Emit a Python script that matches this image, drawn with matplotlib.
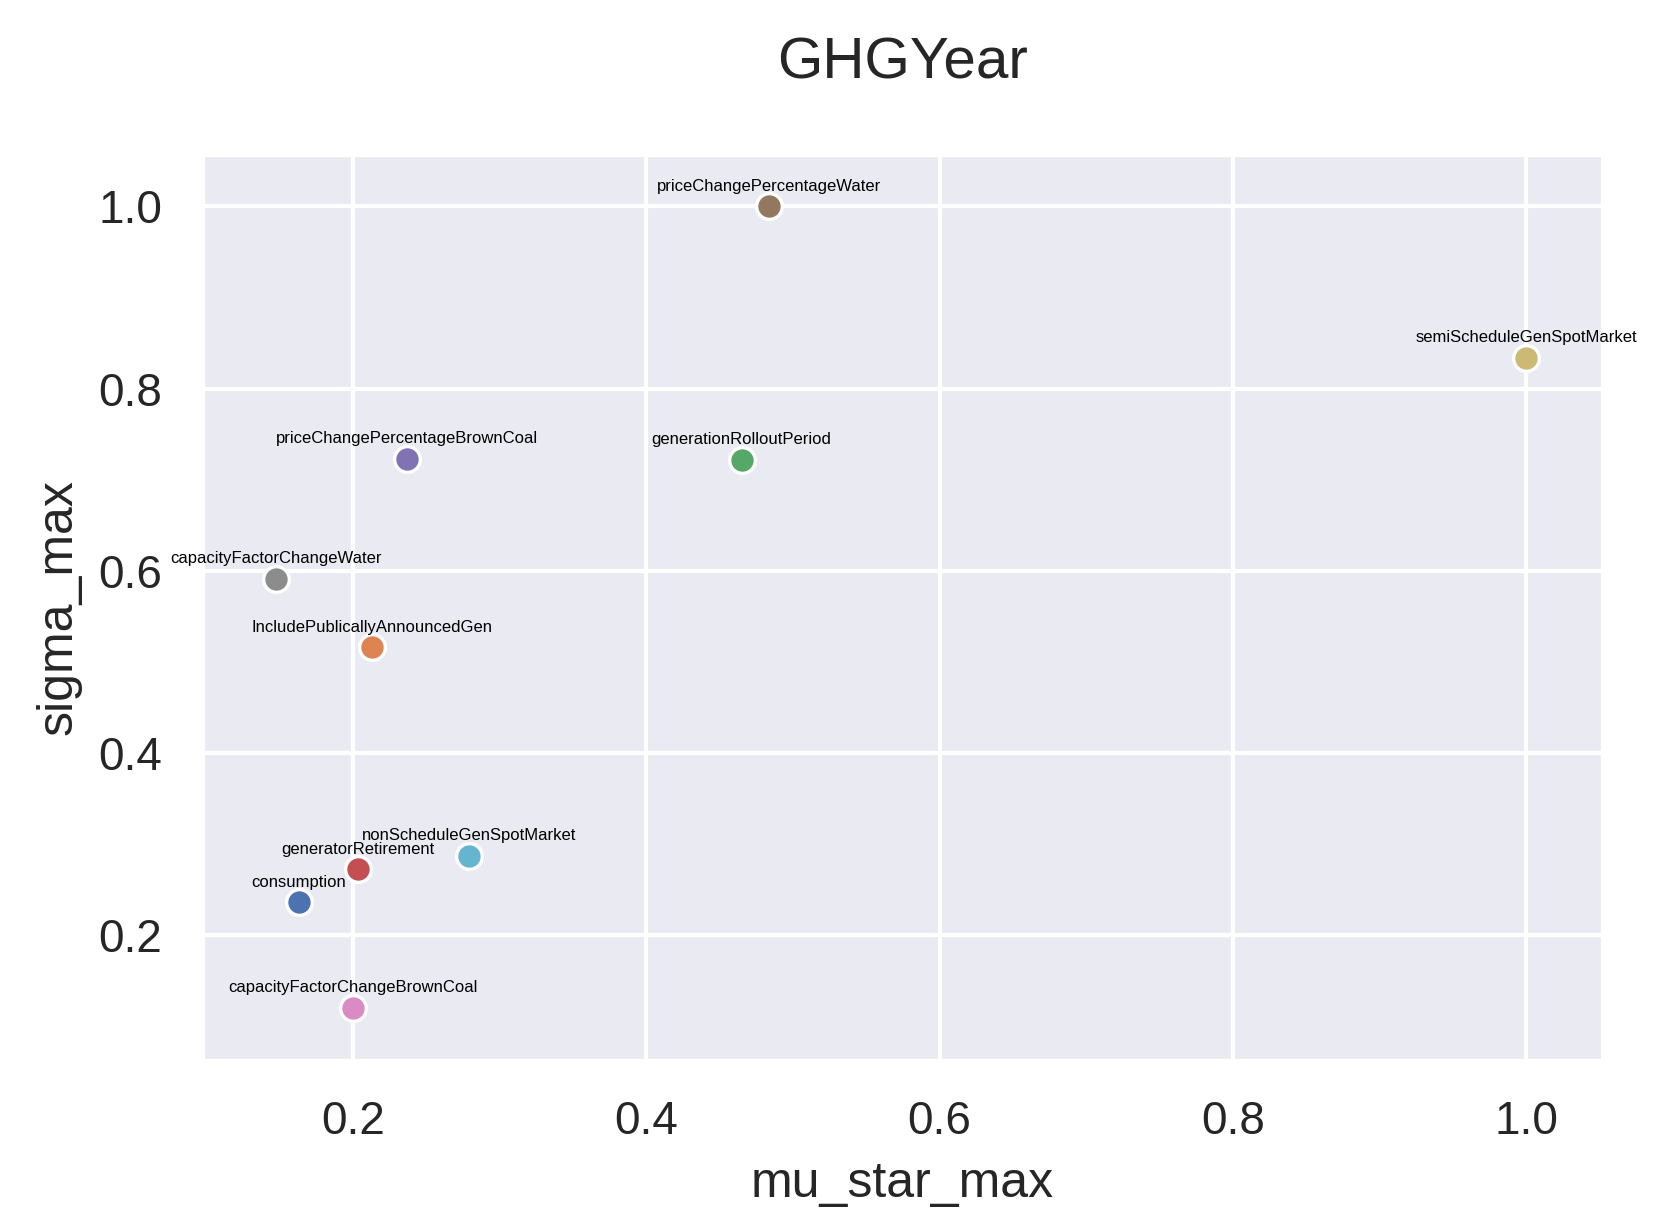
import matplotlib
matplotlib.use("Agg")
import matplotlib.pyplot as plt
import seaborn as sns

names = ["consumption", "IncludePublicallyAnnouncedGen", "generationRolloutPeriod",
         "generatorRetirement", "priceChangePercentageBrownCoal", "priceChangePercentageWater",
         "capacityFactorChangeBrownCoal", "capacityFactorChangeWater",
         "semiScheduleGenSpotMarket", "nonScheduleGenSpotMarket"]
mu_star_max = [0.163, 0.213, 0.465, 0.2036, 0.237, 0.4836, 0.2, 0.1478, 1.0, 0.279]
sigma_max = [0.236, 0.516, 0.722, 0.272, 0.723, 1.0, 0.120, 0.591, 0.834, 0.287]

sns.set_theme(style="darkgrid")
plt.rcParams['font.family'] = ['Arial', 'Liberation Sans', 'DejaVu Sans']
colors = sns.color_palette("deep", 10)

fig = plt.figure(figsize=(1654/300, 1229/300), dpi=300)
ax = fig.add_axes([0.122, 0.137, 0.847, 0.738])
for i, n in enumerate(names):
    ax.scatter(mu_star_max[i], sigma_max[i], color=colors[i], s=38, edgecolor='white', linewidth=0.8, zorder=3)
    ax.annotate(n, (mu_star_max[i], sigma_max[i]), xytext=(0, 3), textcoords='offset points',
                ha='center', va='bottom', fontsize=4, color='black')
ax.set_xlim(0.097, 1.052)
ax.set_ylim(0.062, 1.058)
ax.set_xticks([0.2, 0.4, 0.6, 0.8, 1.0])
ax.set_yticks([0.2, 0.4, 0.6, 0.8, 1.0])
ax.tick_params(labelsize=11)
ax.set_xlabel("mu_star_max", fontsize=12)
ax.set_ylabel("sigma_max", fontsize=12)
ax.set_title("GHGYear", fontsize=14, pad=18)
fig.savefig("out.png", dpi=300)
